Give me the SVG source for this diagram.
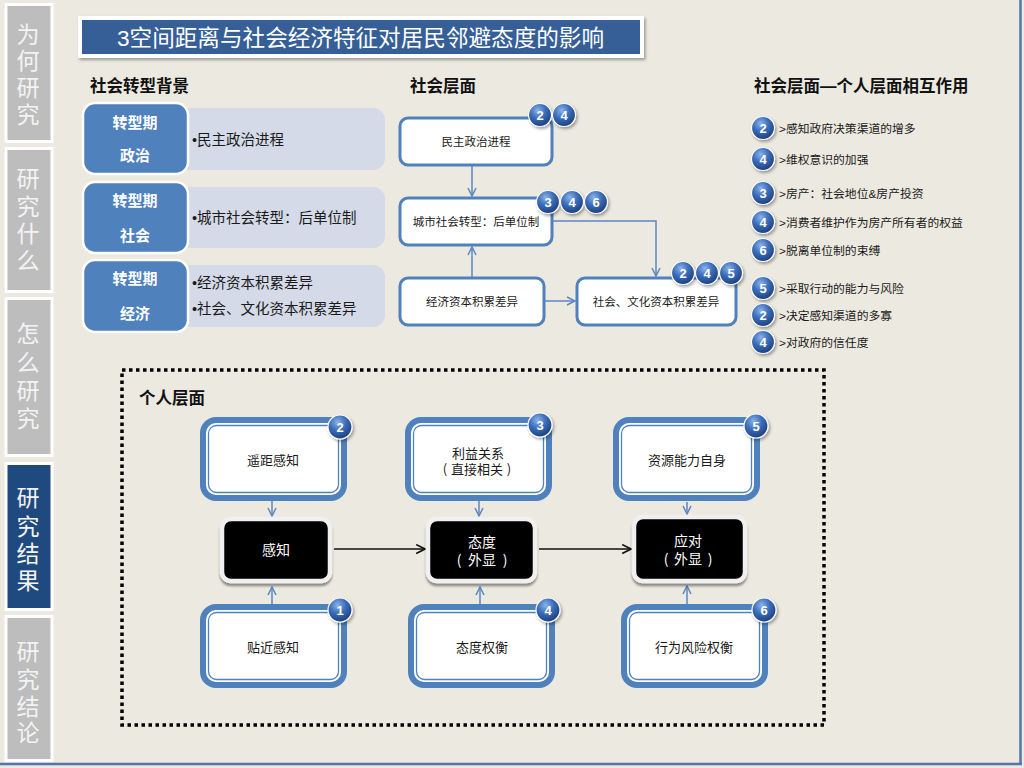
<svg xmlns="http://www.w3.org/2000/svg" width="1024" height="768" viewBox="0 0 1024 768">
<defs>
<style>
text{font-family:"Liberation Sans","Noto Sans CJK SC",sans-serif}
.tab{fill:#BDBDBD;stroke:#FFFFFF;stroke-width:3}
.tabon{fill:#1F4A7F;stroke:#FFFFFF;stroke-width:3}
.tt{font-size:23px;fill:#F3F3F3;text-anchor:middle}
.hdr{font-size:16.5px;font-weight:bold;fill:#111}
.bb{fill:#4F81BD;stroke:#FFFFFF;stroke-width:2.5}
.bt{font-size:15px;font-weight:bold;fill:#FFFFFF;text-anchor:middle}
.lb{fill:#D4DAE8}
.lt{font-size:14.5px;fill:#1A1A1A}
.sb{fill:#FFFFFF;stroke:#4F81BD;stroke-width:3}
.st{font-size:11.5px;fill:#1A1A1A;text-anchor:middle}
.conn{stroke:#5B87C0;stroke-width:1.5;fill:none;marker-end:url(#ab)}
.connk{stroke:#111;stroke-width:1.5;fill:none;marker-end:url(#ak)}
.do{fill:#FFFFFF;stroke:#4F81BD;stroke-width:6}
.di{fill:none;stroke:#4F81BD;stroke-width:1.3}
.dt{font-size:13px;fill:#1A1A1A;text-anchor:middle}
.blk{fill:#000000;stroke:#F0F0F0;stroke-width:4.5}
.wt{font-size:14px;fill:#FFFFFF;text-anchor:middle}
.pc{font-family:"Noto Sans CJK SC",sans-serif}
.bd{fill:url(#bg);stroke:#FFFFFF;stroke-width:1.2}
.bn{font-size:13px;font-weight:bold;fill:#FFFFFF;text-anchor:middle}
.li{font-size:11.8px;fill:#1A1A1A}
</style>
<radialGradient id="bg" cx="40%" cy="30%" r="75%">
<stop offset="0" stop-color="#8CB3EA"/>
<stop offset="0.45" stop-color="#3C6EBB"/>
<stop offset="1" stop-color="#183A78"/>
</radialGradient>
<filter id="sh" x="-20%" y="-20%" width="150%" height="160%">
<feDropShadow dx="1.5" dy="2" stdDeviation="1.5" flood-color="#000" flood-opacity="0.35"/>
</filter>
<filter id="sh2" x="-20%" y="-20%" width="150%" height="160%">
<feDropShadow dx="0" dy="3" stdDeviation="1.2" flood-color="#000" flood-opacity="0.4"/>
</filter>
<marker id="ab" viewBox="0 0 10 10" refX="9" refY="5" markerWidth="10" markerHeight="10" markerUnits="userSpaceOnUse" orient="auto">
<path d="M1,1 L9,5 L1,9" fill="none" stroke="#5B87C0" stroke-width="1.5"/>
</marker>
<marker id="ak" viewBox="0 0 10 10" refX="9" refY="5" markerWidth="11" markerHeight="11" markerUnits="userSpaceOnUse" orient="auto">
<path d="M1,1 L9,5 L1,9" fill="none" stroke="#111" stroke-width="1.5"/>
</marker>
</defs>

<rect x="0" y="0" width="1024" height="768" fill="#ECE9E0"/>
<line x1="1020.5" y1="0" x2="1020.5" y2="765" stroke="#5574A8" stroke-width="2.5"/>
<line x1="0" y1="764" x2="1022" y2="764" stroke="#5574A8" stroke-width="2.5"/>

<!-- sidebar tabs -->
<g id="tab1"><rect class="tab" x="6" y="4.5" width="46" height="137"/>
<text class="tt" x="28" y="43">为</text><text class="tt" x="28" y="69">何</text><text class="tt" x="28" y="96">研</text><text class="tt" x="28" y="123">究</text></g>
<g id="tab2"><rect class="tab" x="6" y="148.5" width="46" height="143"/>
<text class="tt" x="28" y="187">研</text><text class="tt" x="28" y="215">究</text><text class="tt" x="28" y="242">什</text><text class="tt" x="28" y="269">么</text></g>
<g id="tab3"><rect class="tab" x="6" y="298.5" width="46" height="157"/>
<text class="tt" x="28" y="342">怎</text><text class="tt" x="28" y="371">么</text><text class="tt" x="28" y="399">研</text><text class="tt" x="28" y="427">究</text></g>
<g id="tab4"><rect class="tabon" x="6" y="463.5" width="46" height="146"/>
<text class="tt" x="28" y="506" fill="#FFFFFF">研</text><text class="tt" x="28" y="535">究</text><text class="tt" x="28" y="562">结</text><text class="tt" x="28" y="589">果</text></g>
<g id="tab5"><rect class="tab" x="6" y="616.5" width="46" height="144"/>
<text class="tt" x="28" y="660">研</text><text class="tt" x="28" y="688">究</text><text class="tt" x="28" y="715">结</text><text class="tt" x="28" y="741">论</text></g>

<!-- title -->
<g id="title">
<rect x="78" y="16" width="566" height="42" fill="#FFFFFF" filter="url(#sh)"/>
<rect x="82" y="20" width="558" height="34" fill="#365F97"/>
<text x="117" y="46" font-size="22.6" fill="#FFFFFF">3空间距离与社会经济特征对居民邻避态度的影响</text>
</g>

<!-- headers -->
<text class="hdr" x="90" y="92">社会转型背景</text>
<text class="hdr" x="410" y="92">社会层面</text>
<text class="hdr" x="754" y="92" font-size="17">社会层面—个人层面相互作用</text>

<!-- left background rows -->
<g id="row-politics">
<rect class="lb" x="170" y="108" width="215" height="62" rx="12"/>
<rect class="bb" x="83" y="103" width="105" height="71" rx="12"/>
<text class="bt" x="135" y="128">转型期</text><text class="bt" x="135" y="161">政治</text>
<text class="lt" x="192" y="145">•民主政治进程</text>
</g>
<g id="row-society">
<rect class="lb" x="170" y="187" width="215" height="61" rx="12"/>
<rect class="bb" x="83" y="182" width="105" height="71" rx="12"/>
<text class="bt" x="135" y="206">转型期</text><text class="bt" x="135" y="241">社会</text>
<text class="lt" x="192" y="223">•城市社会转型：后单位制</text>
</g>
<g id="row-economy">
<rect class="lb" x="170" y="265" width="215" height="62" rx="12"/>
<rect class="bb" x="83" y="260" width="105" height="72" rx="12"/>
<text class="bt" x="135" y="284">转型期</text><text class="bt" x="135" y="319">经济</text>
<text class="lt" x="192" y="288">•经济资本积累差异</text>
<text class="lt" x="192" y="314">•社会、文化资本积累差异</text>
</g>

<!-- social level connectors -->
<g id="connectors-social">
<path class="conn" d="M472,166 V196"/>
<path class="conn" d="M472,277 V247"/>
<path class="conn" d="M553,221 H656 V276"/>
<path class="conn" d="M545,301 H575"/>
</g>

<!-- social level nodes -->
<g id="s-politics">
<rect class="sb" x="400" y="118" width="152" height="47" rx="8"/>
<text class="st" x="476" y="146">民主政治进程</text>
<circle class="bd" cx="540" cy="115" r="11.5" filter="url(#sh)"/><text class="bn" x="540" y="119.7">2</text>
<circle class="bd" cx="564" cy="115" r="11.5" filter="url(#sh)"/><text class="bn" x="564" y="119.7">4</text>
</g>
<g id="s-urban">
<rect class="sb" x="400" y="198" width="152" height="47" rx="8"/>
<text class="st" x="476" y="226">城市社会转型：后单位制</text>
<circle class="bd" cx="548" cy="202" r="11.5" filter="url(#sh)"/><text class="bn" x="548" y="206.7">3</text>
<circle class="bd" cx="572" cy="202" r="11.5" filter="url(#sh)"/><text class="bn" x="572" y="206.7">4</text>
<circle class="bd" cx="596" cy="202" r="11.5" filter="url(#sh)"/><text class="bn" x="596" y="206.7">6</text>
</g>
<g id="s-econ">
<rect class="sb" x="400" y="278" width="144" height="47" rx="8"/>
<text class="st" x="472" y="306">经济资本积累差异</text>
</g>
<g id="s-cultural">
<rect class="sb" x="577" y="278" width="159" height="47" rx="8"/>
<text class="st" x="656" y="306">社会、文化资本积累差异</text>
<circle class="bd" cx="683" cy="273" r="11.5" filter="url(#sh)"/><text class="bn" x="683" y="277.7">2</text>
<circle class="bd" cx="707" cy="273" r="11.5" filter="url(#sh)"/><text class="bn" x="707" y="277.7">4</text>
<circle class="bd" cx="731" cy="273" r="11.5" filter="url(#sh)"/><text class="bn" x="731" y="277.7">5</text>
</g>

<!-- interaction list -->
<g id="list">
<g id="li1"><circle class="bd" cx="763" cy="128" r="11.5" filter="url(#sh)"/><text class="bn" x="763" y="132.7">2</text><text class="li" x="779" y="132.5">&gt;感知政府决策渠道的增多</text></g>
<g id="li2"><circle class="bd" cx="763" cy="159" r="11.5" filter="url(#sh)"/><text class="bn" x="763" y="163.7">4</text><text class="li" x="779" y="163.5">&gt;维权意识的加强</text></g>
<g id="li3"><circle class="bd" cx="763" cy="193" r="11.5" filter="url(#sh)"/><text class="bn" x="763" y="197.7">3</text><text class="li" x="779" y="197.5">&gt;房产：社会地位&amp;房产投资</text></g>
<g id="li4"><circle class="bd" cx="763" cy="222" r="11.5" filter="url(#sh)"/><text class="bn" x="763" y="226.7">4</text><text class="li" x="779" y="226.5">&gt;消费者维护作为房产所有者的权益</text></g>
<g id="li5"><circle class="bd" cx="763" cy="250" r="11.5" filter="url(#sh)"/><text class="bn" x="763" y="254.7">6</text><text class="li" x="779" y="254.5">&gt;脱离单位制的束缚</text></g>
<g id="li6"><circle class="bd" cx="763" cy="288" r="11.5" filter="url(#sh)"/><text class="bn" x="763" y="292.7">5</text><text class="li" x="779" y="292.5">&gt;采取行动的能力与风险</text></g>
<g id="li7"><circle class="bd" cx="763" cy="315" r="11.5" filter="url(#sh)"/><text class="bn" x="763" y="319.7">2</text><text class="li" x="779" y="319.5">&gt;决定感知渠道的多寡</text></g>
<g id="li8"><circle class="bd" cx="763" cy="342" r="11.5" filter="url(#sh)"/><text class="bn" x="763" y="346.7">4</text><text class="li" x="779" y="346.5">&gt;对政府的信任度</text></g>
</g>

<!-- individual level frame -->
<rect x="122" y="370" width="702" height="355" fill="none" stroke="#000" stroke-width="3.5" stroke-dasharray="3.5 3.5"/>
<text class="hdr" x="139" y="404">个人层面</text>

<!-- individual connectors -->
<g id="connectors-individual">
<path class="conn" d="M272,501 V516"/>
<path class="conn" d="M479,501 V516"/>
<path class="conn" d="M687,502 V514"/>
<path class="conn" d="M272,604 V587"/>
<path class="conn" d="M480,604 V587"/>
<path class="conn" d="M687,604 V586"/>
<path class="connk" d="M334,549 H425"/>
<path class="connk" d="M539,549 H631"/>
</g>

<!-- individual nodes -->
<g id="n-remote">
<rect class="do" x="203" y="420" width="141" height="78" rx="13"/>
<rect class="di" x="208.5" y="425.5" width="130" height="67" rx="8"/>
<text class="dt" x="273" y="465">遥距感知</text>
<circle class="bd" cx="340" cy="427" r="12" filter="url(#sh)"/><text class="bn" x="340" y="431.7">2</text>
</g>
<g id="n-interest">
<rect class="do" x="408" y="420" width="141" height="78" rx="13"/>
<rect class="di" x="413.5" y="425.5" width="130" height="67" rx="8"/>
<text class="dt" x="478" y="458">利益关系</text>
<text class="dt" y="474"><tspan class="pc" x="445">(</tspan><tspan x="477">直接相关</tspan><tspan class="pc" x="509">)</tspan></text>
<circle class="bd" cx="540" cy="425" r="12" filter="url(#sh)"/><text class="bn" x="540" y="429.7">3</text>
</g>
<g id="n-resource">
<rect class="do" x="616" y="420" width="141" height="78" rx="13"/>
<rect class="di" x="621.5" y="425.5" width="130" height="67" rx="8"/>
<text class="dt" x="687" y="465">资源能力自身</text>
<circle class="bd" cx="756" cy="426" r="12" filter="url(#sh)"/><text class="bn" x="756" y="430.7">5</text>
</g>
<g id="n-near">
<rect class="do" x="203" y="607" width="141" height="78" rx="13"/>
<rect class="di" x="208.5" y="612.5" width="130" height="67" rx="8"/>
<text class="dt" x="273" y="652">贴近感知</text>
<circle class="bd" cx="340" cy="610" r="12" filter="url(#sh)"/><text class="bn" x="340" y="614.7">1</text>
</g>
<g id="n-tradeoff">
<rect class="do" x="411" y="607" width="141" height="78" rx="13"/>
<rect class="di" x="416.5" y="612.5" width="130" height="67" rx="8"/>
<text class="dt" x="482" y="652">态度权衡</text>
<circle class="bd" cx="548" cy="610" r="12" filter="url(#sh)"/><text class="bn" x="548" y="614.7">4</text>
</g>
<g id="n-risk">
<rect class="do" x="624" y="607" width="141" height="78" rx="13"/>
<rect class="di" x="629.5" y="612.5" width="130" height="67" rx="8"/>
<text class="dt" x="694" y="652">行为风险权衡</text>
<circle class="bd" cx="764" cy="610" r="12" filter="url(#sh)"/><text class="bn" x="764" y="614.7">6</text>
</g>
<g id="n-perception">
<rect class="blk" x="222" y="519" width="108" height="62" rx="9" filter="url(#sh2)"/>
<text class="wt" x="276" y="555">感知</text>
</g>
<g id="n-attitude">
<rect class="blk" x="428" y="519" width="107" height="62" rx="9" filter="url(#sh2)"/>
<text class="wt" x="482" y="547">态度</text>
<text class="wt" y="565"><tspan class="pc" x="459">(</tspan><tspan x="482">外显</tspan><tspan class="pc" x="505">)</tspan></text>
</g>
<g id="n-response">
<rect class="blk" x="634" y="517" width="111" height="64" rx="9" filter="url(#sh2)"/>
<text class="wt" x="688" y="546">应对</text>
<text class="wt" y="564"><tspan class="pc" x="666">(</tspan><tspan x="688">外显</tspan><tspan class="pc" x="710">)</tspan></text>
</g>
</svg>
